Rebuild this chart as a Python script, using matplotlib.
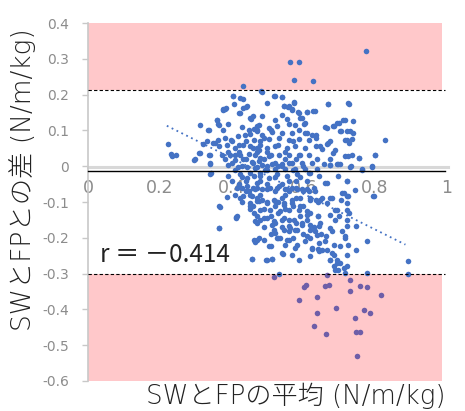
import matplotlib
matplotlib.use("Agg")
import matplotlib.pyplot as plt
from matplotlib.patches import Rectangle

plt.rcParams['font.family'] = ['Noto Sans CJK JP', 'DejaVu Sans']

# mean of SW and FP (x) / difference (y)
mean_vals = [
    0.775, 0.563, 0.588, 0.575, 0.626, 0.431, 0.482,
    0.517, 0.531, 0.601, 0.608, 0.587, 0.638, 0.661, 0.672, 0.666, 0.638, 0.630, 0.662,
    0.692, 0.731, 0.731, 0.757, 0.779, 0.817, 0.768, 0.787, 0.745, 0.748, 0.757, 0.750,
    0.778, 0.892, 0.891,
    0.799, 0.756, 0.792, 0.764, 0.726, 0.733, 0.698, 0.675, 0.698, 0.722, 0.745, 0.794,
    0.708, 0.723, 0.722, 0.675, 0.647, 0.661, 0.694, 0.722, 0.675, 0.689, 0.748, 0.722,
    0.708, 0.675, 0.647, 0.640, 0.717, 0.778, 0.726, 0.748, 0.686, 0.666, 0.643, 0.694,
    0.685, 0.723, 0.703, 0.698, 0.686, 0.675, 0.456, 0.496, 0.512, 0.543, 0.509, 0.413,
    0.463, 0.475, 0.526, 0.554, 0.577, 0.610, 0.624, 0.619, 0.643, 0.582, 0.563, 0.545,
    0.517, 0.489, 0.517, 0.545, 0.573, 0.596, 0.619, 0.633, 0.610, 0.587, 0.559, 0.535,
    0.508, 0.480, 0.452, 0.433, 0.456, 0.484, 0.517, 0.545, 0.568, 0.591, 0.619, 0.633,
    0.610, 0.582, 0.554, 0.526, 0.498, 0.470, 0.442, 0.415,
    0.222, 0.233, 0.230, 0.244, 0.296, 0.312, 0.310, 0.335, 0.338, 0.340, 0.342, 0.321,
    0.354, 0.358, 0.363, 0.375, 0.382, 0.365, 0.365, 0.412, 0.403, 0.433, 0.421, 0.441,
    0.454, 0.463, 0.498, 0.519, 0.540, 0.545, 0.556, 0.573, 0.568, 0.587, 0.596, 0.610,
    0.628, 0.670, 0.724, 0.712, 0.740, 0.694, 0.684, 0.661, 0.703, 0.729, 0.737, 0.723,
    0.827, 0.801, 0.791, 0.763, 0.756, 0.731, 0.717, 0.694, 0.675, 0.684, 0.670, 0.647,
    0.636, 0.610, 0.601, 0.796,
    0.403, 0.407, 0.423, 0.442, 0.433, 0.422, 0.377, 0.384, 0.338, 0.358, 0.366, 0.391,
    0.377, 0.451, 0.459, 0.447, 0.470, 0.475, 0.330, 0.349, 0.363, 0.382, 0.397, 0.419,
    0.437, 0.461, 0.366, 0.386, 0.409, 0.433, 0.451, 0.470, 0.298, 0.340, 0.312, 0.372,
    0.396, 0.423, 0.447, 0.465, 0.382, 0.409, 0.433, 0.456, 0.477, 0.391, 0.419, 0.442,
    0.465, 0.340,
    0.485, 0.520, 0.540, 0.573, 0.545, 0.559, 0.568, 0.585, 0.610, 0.632, 0.669, 0.727,
    0.485, 0.540, 0.554, 0.592, 0.522, 0.606, 0.578, 0.559, 0.526, 0.503, 0.471, 0.666,
    0.685, 0.699, 0.716, 0.706, 0.722, 0.738, 0.587, 0.606, 0.624, 0.568, 0.540, 0.513,
    0.485, 0.675, 0.666, 0.717, 0.634, 0.615, 0.587, 0.559, 0.531, 0.503, 0.480, 0.689,
    0.652, 0.634, 0.606, 0.578, 0.554, 0.522, 0.498, 0.475, 0.727, 0.736, 0.615, 0.587,
    0.559, 0.531, 0.503, 0.480, 0.638, 0.675, 0.703, 0.657, 0.624, 0.596, 0.568, 0.540,
    0.513, 0.485, 0.638, 0.606, 0.578, 0.550, 0.522, 0.494, 0.471,
    0.340, 0.391, 0.400, 0.423, 0.442, 0.461, 0.470, 0.428, 0.447, 0.465, 0.386, 0.423,
    0.451, 0.470, 0.368, 0.414, 0.461, 0.465, 0.366, 0.470, 0.465, 0.456,
    0.480, 0.503, 0.527, 0.554, 0.582, 0.615, 0.643, 0.666, 0.722, 0.713, 0.725, 0.706,
    0.680, 0.666, 0.652, 0.634, 0.485, 0.508, 0.531, 0.550, 0.568, 0.596, 0.615, 0.475,
    0.498, 0.522, 0.545, 0.568, 0.592, 0.610, 0.689, 0.699, 0.727, 0.722, 0.480, 0.498,
    0.513, 0.540, 0.559, 0.578, 0.596, 0.620, 0.643, 0.638, 0.662, 0.680, 0.717, 0.489,
    0.503, 0.522, 0.536, 0.559, 0.582, 0.606, 0.624, 0.652, 0.680, 0.703, 0.722, 0.540,
    0.568, 0.587, 0.498, 0.513, 0.675, 0.694, 0.689, 0.713, 0.717,
    0.40, 0.41, 0.42, 0.43, 0.44, 0.45, 0.46, 0.47, 0.48, 0.49, 0.50, 0.51, 0.52, 0.53,
    0.54, 0.55, 0.56, 0.57, 0.58, 0.59, 0.44, 0.46, 0.48, 0.50, 0.52, 0.53, 0.55, 0.57,
    0.49, 0.51, 0.53, 0.55, 0.56, 0.54, 0.52, 0.50, 0.47, 0.45, 0.43, 0.42, 0.41, 0.39,
    0.40, 0.44, 0.46, 0.48, 0.50, 0.49, 0.47, 0.45, 0.43, 0.51, 0.53, 0.55, 0.57, 0.59,
    0.60, 0.61, 0.62, 0.63, 0.58, 0.60, 0.59, 0.61, 0.62, 0.63, 0.64, 0.65, 0.66, 0.64,
    0.62, 0.60, 0.58, 0.57, 0.56, 0.55, 0.53, 0.51, 0.49, 0.47, 0.46, 0.48, 0.50, 0.52,
    0.54, 0.56, 0.58, 0.42, 0.44, 0.41, 0.43, 0.45, 0.47, 0.52, 0.54, 0.56, 0.58, 0.60,
    0.62, 0.64,
]
diff_vals = [
    0.321, 0.291, 0.291, 0.240, 0.237, 0.223, 0.209,
    -0.309, -0.300, -0.337, -0.331, -0.375, -0.365, -0.334, -0.331, -0.303, -0.410, -0.445, -0.468,
    -0.397, -0.319, -0.349, -0.334, -0.337, -0.361, -0.403, -0.410, -0.424, -0.464, -0.464, -0.529,
    -0.298, -0.300, -0.266,
    0.030, 0.023, 0.000, -0.009, 0.028, 0.000, 0.007, 0.004, -0.028, -0.042, -0.067, -0.084,
    -0.075, -0.084, -0.103, -0.089, -0.093, -0.047, -0.121, -0.123, -0.135, -0.149, -0.166, -0.166,
    -0.182, -0.172, -0.158, -0.140, -0.200, -0.208, -0.219, -0.235, -0.219, -0.233, -0.238, -0.261,
    -0.247, -0.278, -0.270, -0.289, -0.280, -0.261, -0.258, -0.261, -0.259, -0.244, -0.224, -0.143,
    -0.205, -0.200, -0.200, -0.205, -0.228, -0.196, -0.231, -0.250, -0.214, -0.177, -0.172, -0.177,
    -0.177, -0.144, -0.154, -0.144, -0.149, -0.158, -0.163, -0.182, -0.135, -0.121, -0.121, -0.126,
    -0.121, -0.121, -0.112, -0.084, -0.084, -0.093, -0.093, -0.103, -0.093, -0.089, -0.093, -0.070,
    -0.065, -0.065, -0.065, -0.061, -0.065, -0.061, -0.056, -0.061,
    0.063, 0.028, 0.035, 0.031, 0.017, 0.115, 0.037, 0.100, 0.030, 0.005, -0.019, 0.063,
    0.065, 0.128, 0.118, 0.158, 0.160, -0.112, -0.172, -0.144, 0.196, 0.188, 0.149, 0.166,
    0.132, 0.104, 0.177, 0.196, 0.194, 0.168, 0.166, 0.177, 0.158, 0.149, 0.135, 0.151,
    0.155, 0.174, 0.177, 0.130, 0.126, 0.121, 0.112, 0.109, 0.098, 0.098, 0.077, 0.074,
    0.072, 0.030, -0.003, -0.011, 0.023, -0.003, 0.028, 0.007, 0.003, 0.037, 0.065, 0.056,
    0.088, 0.093, 0.119, -0.084,
    0.195, 0.175, 0.191, 0.168, 0.163, 0.149, 0.160, 0.163, 0.100, 0.128, 0.116, 0.118,
    0.102, 0.135, 0.140, 0.102, 0.098, 0.116, 0.070, 0.065, 0.074, 0.079, 0.074, 0.084,
    0.088, 0.074, 0.056, 0.060, 0.051, 0.060, 0.056, 0.051, 0.019, 0.032, 0.037, 0.032,
    0.032, 0.030, 0.035, 0.030, 0.019, 0.016, 0.019, 0.011, 0.014, 0.002, -0.002, -0.002,
    -0.005, 0.009,
    0.207, 0.197, 0.194, 0.179, 0.168, 0.168, 0.160, 0.151, 0.151, 0.154, 0.174, 0.175,
    0.141, 0.144, 0.132, 0.135, 0.130, 0.121, 0.116, 0.119, 0.112, 0.107, 0.112, 0.107,
    0.112, 0.121, 0.128, 0.098, 0.098, 0.093, 0.102, 0.093, 0.088, 0.093, 0.093, 0.095,
    0.088, 0.070, 0.063, 0.074, 0.079, 0.074, 0.076, 0.074, 0.079, 0.076, 0.070, 0.045,
    0.048, 0.056, 0.051, 0.056, 0.051, 0.056, 0.051, 0.046, 0.065, 0.032, 0.032, 0.030,
    0.032, 0.030, 0.028, 0.023, 0.019, 0.019, 0.005, 0.005, 0.009, 0.009, 0.009, 0.007,
    0.005, 0.002, -0.008, -0.009, -0.008, -0.009, -0.009, -0.011, -0.002,
    -0.023, -0.028, -0.042, -0.023, -0.033, -0.028, -0.047, -0.061, -0.070, -0.065, -0.086, -0.089,
    -0.103, -0.098, -0.114, -0.140, -0.131, -0.154, -0.172, -0.205, -0.212, -0.259,
    -0.028, -0.033, -0.023, -0.028, -0.023, -0.019, -0.028, -0.047, -0.042, -0.075, -0.082, -0.093,
    -0.089, -0.103, -0.089, -0.093, -0.065, -0.061, -0.056, -0.065, -0.061, -0.065, -0.070, -0.098,
    -0.103, -0.098, -0.107, -0.103, -0.112, -0.126, -0.121, -0.140, -0.131, -0.149, -0.149, -0.145,
    -0.163, -0.149, -0.168, -0.177, -0.163, -0.177, -0.168, -0.191, -0.196, -0.182, -0.196, -0.205,
    -0.224, -0.186, -0.200, -0.205, -0.219, -0.210, -0.228, -0.233, -0.242, -0.224, -0.247, -0.242,
    -0.247, -0.261, -0.261, -0.259, -0.261, -0.270, -0.289, -0.284, -0.298,
    0.01, -0.01, 0.04, 0.00, 0.02, -0.02, 0.01, 0.04, -0.04, 0.02, -0.01, 0.03, -0.03, 0.00,
    -0.05, 0.02, -0.04, -0.01, -0.06, -0.03, -0.04, -0.06, -0.08, -0.05, -0.07, -0.10, -0.08, -0.11,
    -0.12, -0.14, -0.13, -0.12, -0.15, -0.17, -0.16, -0.10, -0.09, -0.08, -0.03, 0.06, 0.03, 0.04,
    0.07, 0.07, 0.05, 0.06, 0.04, 0.08, 0.10, 0.09, 0.11, 0.10, 0.06, 0.04, 0.07, 0.03,
    0.00, -0.04, -0.02, -0.06, -0.09, -0.11, -0.14, -0.15, -0.13, -0.17, -0.14, -0.19, -0.21, -0.23,
    -0.20, -0.19, -0.16, -0.20, -0.18, -0.22, -0.20, -0.19, -0.17, -0.14, -0.11, -0.02, 0.00, 0.01,
    0.00, 0.01, 0.02, -0.05, -0.07, -0.08, -0.10, -0.12, -0.16, -0.11, -0.09, -0.07, -0.04, -0.07,
    -0.09, -0.10,
]

x_ticks = [0, 0.2, 0.4, 0.6, 0.8, 1]
x_tick_labels = ['0', '0.2', '0.4', '0.6', '0.8', '1']
y_ticks = [-0.6, -0.5, -0.4, -0.3, -0.2, -0.1, 0, 0.1, 0.2, 0.3, 0.4]

bias = -0.003
upper_loa = 0.213
lower_loa = -0.300
axis_y = -0.012
trend_x = [0.219, 0.885]
trend_y = [0.113, -0.219]
r_text = 'r ＝ －0.414'

label_font = ['DejaVu Sans', 'Noto Sans CJK JP']

fig = plt.figure(figsize=(4.65, 4.11), dpi=100)
ax = fig.add_axes([0.19, 0.073, 0.7705, 0.871])
ax.set_xlim(0, 1)
ax.set_ylim(-0.6, 0.4)

pink = '#FFC8CA'
ax.add_patch(Rectangle((0, upper_loa), 0.988, 0.4 - upper_loa, color=pink, lw=0, zorder=0))

inside = [(x, y) for x, y in zip(mean_vals, diff_vals) if y >= lower_loa]
below = [(x, y) for x, y in zip(mean_vals, diff_vals) if y < lower_loa]
ax.scatter([p[0] for p in inside], [p[1] for p in inside], s=16, color='#4472C4',
           linewidths=0, zorder=3)
ax.scatter([p[0] for p in below], [p[1] for p in below], s=16, color='#6E5EA8',
           linewidths=0, zorder=3)
ax.add_patch(Rectangle((0, -0.6), 0.988, lower_loa + 0.6, color=pink, lw=0, zorder=1))

ax.plot([0, 1.005], [bias, bias], color='#D8D8D8', lw=2.2, zorder=2, clip_on=False)
ax.plot([0, 0.996], [upper_loa, upper_loa], color='black', lw=0.8, ls=(0, (3, 2)), zorder=4)
ax.plot([0, 0.996], [lower_loa, lower_loa], color='black', lw=0.8, ls=(0, (3, 2)), zorder=4)
ax.plot(trend_x, trend_y, color='#4472C4', lw=1.3, ls=(0, (1, 2)), zorder=4)

for s in ['top', 'right']:
    ax.spines[s].set_visible(False)
ax.spines['left'].set_color('#C8C8C8')
ax.spines['left'].set_linewidth(1.2)
ax.spines['bottom'].set_position(('data', axis_y))
ax.spines['bottom'].set_color('black')
ax.spines['bottom'].set_linewidth(1.0)
ax.spines['bottom'].set_bounds(0, 0.996)
ax.spines['bottom'].set_zorder(4)

ax.set_yticks(y_ticks)
ax.set_yticklabels([f'{v:g}' for v in y_ticks])
ax.tick_params(axis='y', direction='out', length=4, width=1, color='#C8C8C8',
               labelcolor='#8C8C8C', labelsize=10, pad=10)
ax.set_xticks(x_ticks)
ax.set_xticklabels(x_tick_labels)
ax.tick_params(axis='x', length=0, labelcolor='#8C8C8C', labelsize=12.5, pad=6)
for lab in ax.get_xticklabels() + ax.get_yticklabels():
    lab.set_family('DejaVu Sans')

ax.text(0.033, -0.247, r_text, fontsize=17.5, va='center', ha='left', color='#222222',
        zorder=5, family=['Noto Sans CJK JP', 'DejaVu Sans'])

fig.text(296 / 465, 1 - 396 / 411, 'SWとFPの平均 (N/m/kg)', fontsize=18.8,
         ha='center', va='center', color='#222222', family=label_font, weight='light')
fig.text(22 / 465, 1 - 180 / 411, 'SWとFPとの差 (N/m/kg)', fontsize=19,
         ha='center', va='center', rotation=90, color='#222222', family=label_font,
         weight='light')

fig.savefig('out.png', dpi=100)
